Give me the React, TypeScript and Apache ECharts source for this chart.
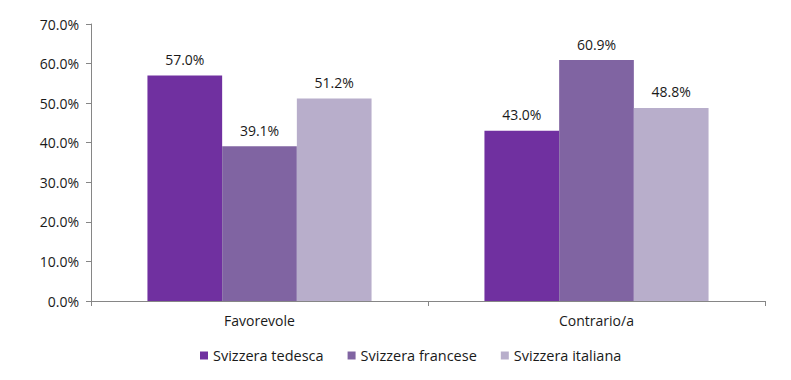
import React, { useEffect, useRef } from "react";
import * as echarts from "echarts";

const categories = ["Favorevole", "Contrario/a"];
const seriesNames = ["Svizzera tedesca", "Svizzera francese", "Svizzera italiana"];
const tedesca = [57.0, 43.0];
const francese = [39.1, 60.9];
const italiana = [51.2, 48.8];
const colors = ["#7030A0", "#8064A2", "#B8AECB"];

export default function App() {
  const ref = useRef<HTMLDivElement>(null);
  useEffect(() => {
    const chart = echarts.init(ref.current!, undefined, { renderer: "svg" });
    const font = "'Open Sans', 'Liberation Sans', sans-serif";
    const data = [tedesca, francese, italiana];
    chart.setOption({
      animation: false,
      textStyle: { fontFamily: font },
      grid: { left: 91, right: 26, top: 24, bottom: 79 },
      legend: {
        bottom: 12,
        left: 195,
        itemWidth: 8,
        itemHeight: 8,
        itemGap: 24,
        icon: "rect",
        textStyle: { fontSize: 14.5, color: "#1a1a1a", fontFamily: font },
        data: seriesNames,
      },
      xAxis: {
        type: "category",
        data: categories,
        axisLine: { lineStyle: { color: "#868686" } },
        axisTick: { show: true, length: 5, lineStyle: { color: "#868686" } },
        axisLabel: { fontSize: 14, color: "#1a1a1a", margin: 12, fontFamily: font },
      },
      yAxis: {
        type: "value",
        min: 0,
        max: 70,
        interval: 10,
        axisLine: { show: true, lineStyle: { color: "#868686" } },
        axisTick: { show: true, length: 5, lineStyle: { color: "#868686" } },
        splitLine: { show: false },
        axisLabel: {
          fontSize: 14,
          color: "#1a1a1a",
          margin: 12,
          fontFamily: font,
          formatter: (v: number) => v.toFixed(1) + "%",
        },
      },
      series: seriesNames.map((name, i) => ({
        name,
        type: "bar",
        data: data[i],
        barGap: "0%",
        barCategoryGap: "33.5%",
        itemStyle: { color: colors[i] },
        label: {
          show: true,
          position: "top",
          distance: 9,
          fontSize: 14,
          color: "#1a1a1a",
          fontFamily: font,
          formatter: (p: any) => Number(p.value).toFixed(1) + "%",
        },
      })),
    });
    return () => chart.dispose();
  }, []);
  return <div ref={ref} style={{ width: 791, height: 380, margin: -8 }} />;
}
